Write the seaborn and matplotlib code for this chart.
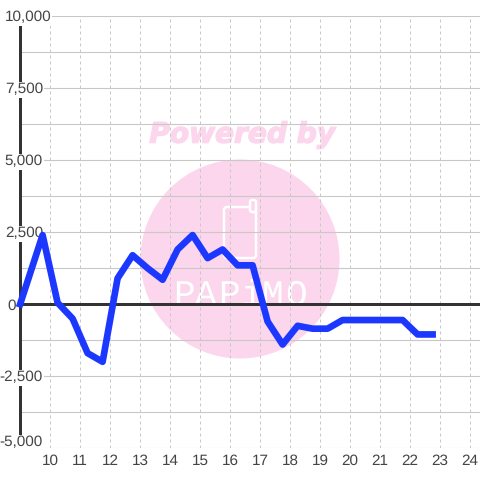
import matplotlib
matplotlib.use('Agg')
import matplotlib.pyplot as plt
from matplotlib.patches import Circle, FancyBboxPatch
import matplotlib.patheffects as pe
import seaborn as sns

hours = [9.0, 9.75, 10.25, 10.75, 11.25, 11.75, 12.25, 12.75, 13.25, 13.75,
         14.25, 14.75, 15.25, 15.75, 16.25, 16.75, 17.25, 17.75, 18.25, 18.75,
         19.25, 19.75, 20.25, 20.75, 21.25, 21.75, 22.25, 22.75]
values = [0, 2400, 50, -500, -1700, -2000, 900, 1700, 1250, 850,
          1900, 2400, 1600, 1900, 1350, 1350, -600, -1400, -750, -850,
          -850, -550, -550, -550, -550, -550, -1050, -1050]
x_ticks = list(range(10, 25))
y_grid = [-5000, -3750, -2500, -1250, 0, 1250, 2500, 3750, 5000, 6250, 7500, 8750, 10000]
y_labels = {10000: '10,000', 7500: '7,500', 5000: '5,000', 2500: '2,500',
            0: '0', -2500: '-2,500', -5000: '-5,000'}

PINK = '#fcd6ed'
GREY = '#c8c8c8'
TEXT = '#444444'
sns.set_style('white')
plt.rcParams['font.family'] = ['Liberation Sans', 'DejaVu Sans']
plt.rcParams['text.hinting'] = 'no_hinting'

fig = plt.figure(figsize=(4.8, 4.8), dpi=100)

# watermark sits behind the chart, in pixel coordinates
bg = fig.add_axes([0, 0, 1, 1], zorder=0)
bg.set_xlim(0, 480)
bg.set_ylim(480, 0)
bg.axis('off')
bg.add_patch(Circle((240, 259), 99.5, color=PINK, lw=0))
bg.text(242, 135, 'Powered by', color=PINK, fontsize=20.2, fontweight='bold',
        fontstyle='italic', family='DejaVu Sans', ha='center', va='center',
        path_effects=[pe.withStroke(linewidth=1, foreground=PINK)])
bg.add_patch(FancyBboxPatch((226, 209), 28, 47, boxstyle='round,pad=2,rounding_size=3',
                            fc='none', ec='white', lw=1.8))
bg.add_patch(FancyBboxPatch((251, 201), 4, 10, boxstyle='round,pad=1,rounding_size=2',
                            fc=PINK, ec='white', lw=1.8))
for letter, x in zip('PAPiMO', [184, 206, 229, 251, 273, 296]):
    bg.text(x, 305, letter, color='white', fontsize=26, family='Liberation Mono',
            ha='center', va='baseline')

ax = fig.add_axes([20.1 / 480, 31.8 / 480, 459.9 / 480, 432 / 480], zorder=1)
ax.patch.set_alpha(0)

sns.lineplot(x=hours, y=values, ax=ax, color='#1c38ff', linewidth=4.8, clip_on=False,
             estimator=None, solid_joinstyle='round', solid_capstyle='projecting', zorder=5)

ax.set_xlim(9, 9 + 459.9 / 30)
ax.set_ylim(-5000, 10000)
ax.set_xticks(x_ticks)
ax.set_yticks(y_grid)
ax.set_yticklabels([])
ax.set_xlabel('')
ax.set_ylabel('')
ax.tick_params(axis='both', length=0)
ax.tick_params(axis='x', labelsize=11, labelcolor=TEXT, pad=4.5)
ax.grid(axis='y', color=GREY, lw=0.8)
ax.grid(axis='x', color=GREY, lw=0.72, ls=(0, (3, 3)))
ax.set_axisbelow(True)
sns.despine(ax=ax, left=True, bottom=True)

ax.axhline(0, color='#333333', lw=2.16, zorder=3, clip_on=False)
ax.axvline(9, color='#333333', lw=2.16, zorder=3, clip_on=False)

# labels have a white box that cuts through the axis and the grid
for value, label in y_labels.items():
    right = {10000: 51, 0: 16}.get(value, 43)
    nudge = 4 if value == -5000 else -1
    ax.annotate(label, xy=(0, value), xycoords=ax.get_yaxis_transform(),
                xytext=((right - 20.1) * 0.72, nudge), textcoords='offset points',
                ha='right', va='center', fontsize=11, color=TEXT, zorder=4,
                bbox=dict(fc='white', ec='none', pad=0.8) if value != 0 else None)

fig.savefig('out.png', dpi=100)
